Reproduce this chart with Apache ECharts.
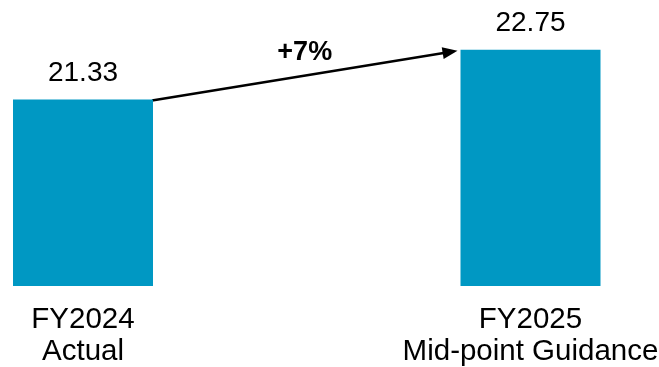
<!DOCTYPE html>
<html>
<head>
<meta charset="utf-8">
<script src="https://cdn.jsdelivr.net/npm/echarts@6/dist/echarts.min.js"></script>
<style>
  html, body { margin: 0; padding: 0; background: #ffffff; }
  #chart { width: 659px; height: 367px; }
</style>
</head>
<body>
<div id="chart"></div>
<script>
// Revenue per period: actual vs. guidance mid-point
const categories = ['FY2024\nActual', 'FY2025\nMid-point Guidance'];
const values = [21.33, 22.75];

const FONT = '"Liberation Sans", Arial, Helvetica, sans-serif';
const BAR_COLOR = '#0098c3';

// Growth between the two periods, shown above the arrow
const growthPct = Math.round((values[1] / values[0] - 1) * 100);
const growthLabel = (growthPct >= 0 ? '+' : '') + growthPct + '%';

const chart = echarts.init(document.getElementById('chart'), null, { renderer: 'canvas' });

// The grid is wider than the canvas so the two bands sit far apart
chart.setOption({
  animation: false,
  backgroundColor: '#ffffff',
  grid: {
    left: -140.75, right: -95.25, top: 6, bottom: 81,
    containLabel: false,
    outerBoundsMode: 'none'
  },
  xAxis: {
    type: 'category',
    data: categories,
    boundaryGap: true,
    axisLine: { show: false },
    axisTick: { show: false },
    splitLine: { show: false },
    axisLabel: {
      margin: 18,
      color: '#000000',
      fontFamily: FONT,
      fontSize: 29.5,
      lineHeight: 32,
      align: 'center',
      interval: 0
    }
  },
  yAxis: {
    type: 'value',
    min: 16,
    max: 24,
    show: false
  },
  series: [{
    type: 'bar',
    data: values,
    barWidth: 140,
    clip: true,
    itemStyle: { color: BAR_COLOR },
    label: {
      show: true,
      position: 'top',
      distance: 12,
      color: '#000000',
      fontFamily: FONT,
      fontSize: 28,
      formatter: p => p.value.toFixed(2)
    }
  }]
});

// Arrow from the top-right corner of the first bar to the top-left of the second
function drawArrow() {
  const p0 = chart.convertToPixel({ gridIndex: 0 }, [0, values[0]]);
  const p1 = chart.convertToPixel({ gridIndex: 0 }, [1, values[1]]);
  const half = 70; // half of barWidth
  const x1 = p0[0] + half - 1;
  const y1 = p0[1] + 1;
  const x2 = p1[0] - half - 3;
  const y2 = p1[1] + 1;
  const dx = x2 - x1, dy = y2 - y1;
  const len = Math.sqrt(dx * dx + dy * dy);
  const ux = dx / len, uy = dy / len;
  const headLen = 15, headHalf = 6;
  const bx = x2 - ux * headLen, by = y2 - uy * headLen;
  const px = -uy, py = ux;
  const mx = (x1 + x2) / 2, my = (y1 + y2) / 2;

  chart.setOption({
    graphic: [
      {
        type: 'line',
        shape: { x1: x1, y1: y1, x2: bx + ux, y2: by + uy },
        style: { stroke: '#000000', lineWidth: 2.4 },
        silent: true
      },
      {
        type: 'polygon',
        shape: { points: [[x2, y2], [bx + px * headHalf, by + py * headHalf], [bx - px * headHalf, by - py * headHalf]] },
        style: { fill: '#000000' },
        silent: true
      },
      {
        type: 'text',
        x: mx,
        y: my - 23,
        style: {
          text: growthLabel,
          fill: '#000000',
          font: 'bold 27px ' + FONT,
          align: 'center',
          verticalAlign: 'middle'
        },
        silent: true
      }
    ]
  });
}
drawArrow();
</script>
</body>
</html>
